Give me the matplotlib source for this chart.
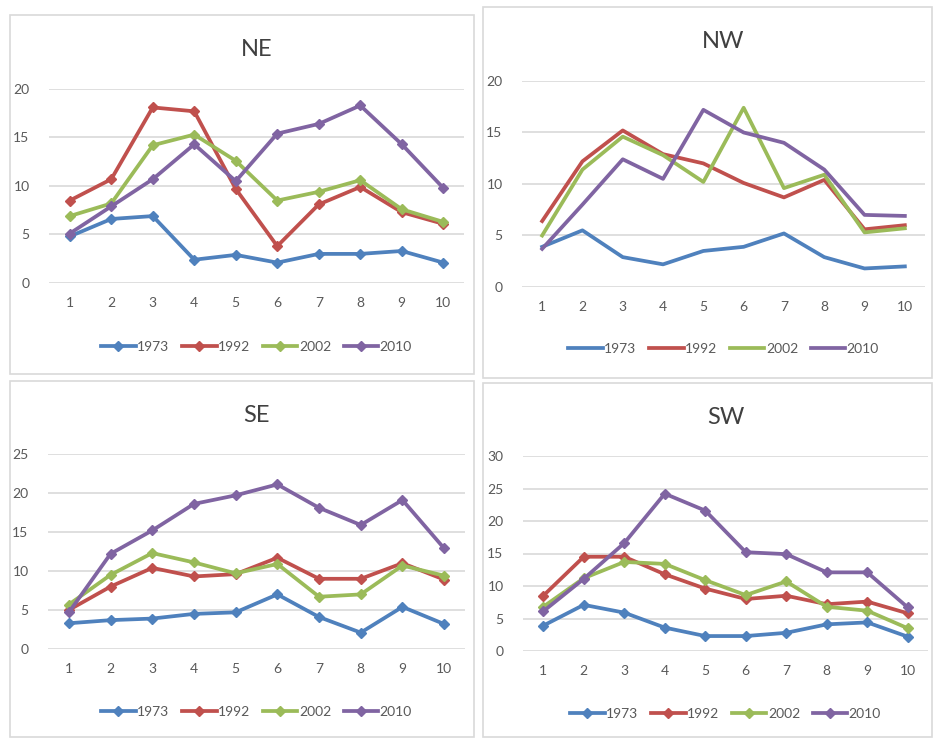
import numpy as np
import matplotlib
matplotlib.use('Agg')
import matplotlib.pyplot as plt
from matplotlib.patches import Rectangle

plt.rcParams['font.family'] = ['Lato', 'DejaVu Sans']

# data
x = np.arange(1, 11)
years = ['1973', '1992', '2002', '2010']
colors = ['#4F81BD', '#C0504D', '#9BBB59', '#8064A2']

ne_1973 = [4.8, 6.6, 6.9, 2.4, 2.9, 2.1, 3.0, 3.0, 3.3, 2.1]
ne_1992 = [8.5, 10.7, 18.1, 17.7, 9.7, 3.8, 8.1, 9.9, 7.3, 6.1]
ne_2002 = [6.9, 8.2, 14.2, 15.3, 12.6, 8.5, 9.4, 10.6, 7.6, 6.3]
ne_2010 = [5.1, 7.9, 10.7, 14.3, 10.5, 15.4, 16.4, 18.3, 14.3, 9.8]

nw_1973 = [3.9, 5.5, 2.9, 2.2, 3.5, 3.9, 5.2, 2.9, 1.8, 2.0]
nw_1992 = [6.4, 12.2, 15.2, 12.9, 12.0, 10.1, 8.7, 10.4, 5.6, 6.0]
nw_2002 = [5.0, 11.4, 14.6, 12.8, 10.2, 17.4, 9.6, 10.9, 5.3, 5.7]
nw_2010 = [3.7, 8.0, 12.4, 10.5, 17.2, 15.0, 14.0, 11.4, 7.0, 6.9]

se_1973 = [3.3, 3.7, 3.9, 4.5, 4.7, 7.0, 4.1, 2.1, 5.4, 3.2]
se_1992 = [5.0, 8.0, 10.4, 9.3, 9.6, 11.7, 9.0, 9.0, 11.0, 8.9]
se_2002 = [5.7, 9.5, 12.3, 11.1, 9.7, 10.9, 6.7, 7.0, 10.7, 9.4]
se_2010 = [4.7, 12.2, 15.2, 18.6, 19.7, 21.1, 18.1, 15.9, 19.1, 12.9]

sw_1973 = [3.9, 7.1, 5.9, 3.6, 2.3, 2.3, 2.8, 4.1, 4.4, 2.2]
sw_1992 = [8.5, 14.5, 14.5, 11.8, 9.6, 8.0, 8.5, 7.2, 7.6, 5.8]
sw_2002 = [6.8, 11.2, 13.7, 13.4, 10.9, 8.6, 10.7, 6.8, 6.2, 3.5]
sw_2010 = [6.1, 11.1, 16.6, 24.2, 21.6, 15.2, 14.9, 12.1, 12.1, 6.7]

W, H = 933, 738
fig = plt.figure(figsize=(W / 100, H / 100), dpi=100)
fig.patch.set_facecolor('white')

# panel frames (pixels: left, top, right, bottom)
frames = [(10, 15, 474, 374), (483, 7, 932, 378), (10, 381, 474, 737), (483, 383, 932, 737)]
for l, t, r, b in frames:
    fig.add_artist(Rectangle((l / W, 1 - b / H), (r - l) / W, (b - t) / H,
                             transform=fig.transFigure, fill=False,
                             edgecolor='#D9D9D9', linewidth=1.2))

panels = [
    # title, series, ymax, axes box (px: left, top, right, bottom), markers, title y, legend y
    ('NE', [ne_1973, ne_1992, ne_2002, ne_2010], 20, (49, 89, 464, 283), True, 50, 347),
    ('NW', [nw_1973, nw_1992, nw_2002, nw_2010], 20, (522, 81, 925, 287), False, 42, 349),
    ('SE', [se_1973, se_1992, se_2002, se_2010], 25, (48, 454, 465, 649), True, 416, 712),
    ('SW', [sw_1973, sw_1992, sw_2002, sw_2010], 30, (523, 456, 928, 651), True, 418, 714),
]

for title, series, ymax, (l, t, r, b), markers, ty, ly in panels:
    ax = fig.add_axes([l / W, 1 - b / H, (r - l) / W, (b - t) / H])
    for vals, yr, c in zip(series, years, colors):
        ax.plot(x, vals, color=c, lw=2.7, label=yr,
                marker='D' if markers else None, markersize=5, zorder=3)
    ax.set_xlim(0.5, 10.5)
    ax.set_ylim(0, ymax)
    ax.set_xticks(x)
    ax.set_yticks(np.arange(0, ymax + 1, 5))
    ax.grid(axis='y', color='#D9D9D9', lw=1.2)
    ax.set_axisbelow(True)
    for s in ax.spines.values():
        s.set_visible(False)
    ax.tick_params(length=0, labelsize=10, labelcolor='#595959', pad=10)
    ax.tick_params(axis='y', pad=14)
    fig.text((l + r) / 2 / W, 1 - ty / H, title, ha='center', va='center',
             fontsize=17, color='#404040')
    ax.legend(loc='center', bbox_to_anchor=(0.5, 1 - (ly - t) / (b - t)), ncol=4,
              frameon=False, fontsize=10, handlelength=2.5, handletextpad=0.1,
              columnspacing=0.9, labelcolor='#595959')

fig.savefig('out.png', dpi=100, facecolor='white')
